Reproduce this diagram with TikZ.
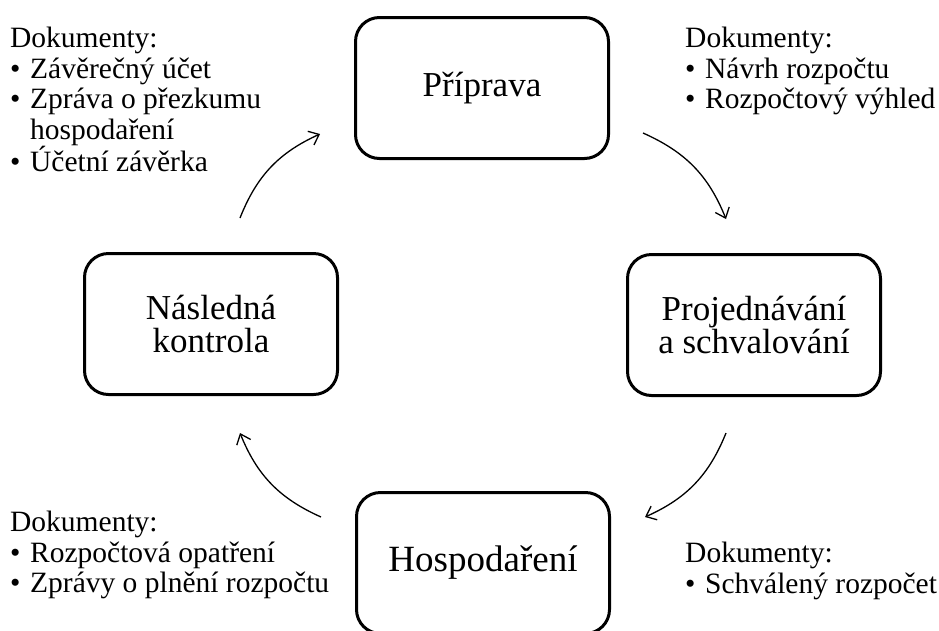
\documentclass[tikz,border=0pt]{standalone}
\usepackage{fontspec}
\setmainfont{Liberation Serif}
\usetikzlibrary{positioning, arrows.meta}
\tikzset{
  faze/.style={
    draw,
    line width=3pt,
    rounded corners=24pt,
    minimum width=253pt,
    minimum height=141pt,
    align=center,
    inner sep=0pt,
    font=\fontsize{35}{33}\selectfont
  },
  dokumenty/.style={
    anchor=north west,
    align=left,
    inner sep=0pt,
    font=\fontsize{29.5}{30.5}\selectfont
  },
  cyklus/.style={
    -{Straight Barb[length=9pt,width=15pt]},
    line width=1.3pt,
    bend left=22
  }
}
\newcommand{\odr}{\makebox[20pt][l]{\textbullet}}

\begin{document}
\begin{tikzpicture}[x=1pt, y=-1pt]
  \useasboundingbox (0,0) rectangle (939,630);

  % Faze rozpoctoveho cyklu
  \node[faze] (priprava) at (482,88) {Příprava};
  \node[faze] (projednavani) at (754,325) {Projednávání\\a schvalování};
  \node[faze, font=\fontsize{37}{40}\selectfont] (hospodareni) at (483,563) {Hospodaření};
  \node[faze] (kontrola) at (211,324) {Následná\\kontrola};

  % Dokumenty
  \node[dokumenty] (dok1) at (10,27) {Dokumenty:\\\odr Závěrečný účet\\\odr Zpráva o přezkumu\\\hspace*{20pt}hospodaření\\\odr Účetní závěrka};
  \node[dokumenty] (dok2) at (685,27) {Dokumenty:\\\odr Návrh rozpočtu\\\odr Rozpočtový výhled};
  \node[dokumenty] (dok3) at (10,511) {Dokumenty:\\\odr Rozpočtová opatření\\\odr Zprávy o plnění rozpočtu};
  \node[dokumenty] (dok4) at (685,542) {Dokumenty:\\\odr Schválený rozpočet};

  % Sipky
  \coordinate (s1a) at (240,218);
  \coordinate (s1b) at (320,134);
  \coordinate (s2a) at (643,133);
  \coordinate (s2b) at (726,219);
  \coordinate (s3a) at (726,433);
  \coordinate (s3b) at (645,517);
  \coordinate (s4a) at (321,517);
  \coordinate (s4b) at (240,433);
  \draw[cyklus] (s1a) to (s1b);
  \draw[cyklus] (s2a) to (s2b);
  \draw[cyklus] (s3a) to (s3b);
  \draw[cyklus] (s4a) to (s4b);

\end{tikzpicture}
\end{document}
